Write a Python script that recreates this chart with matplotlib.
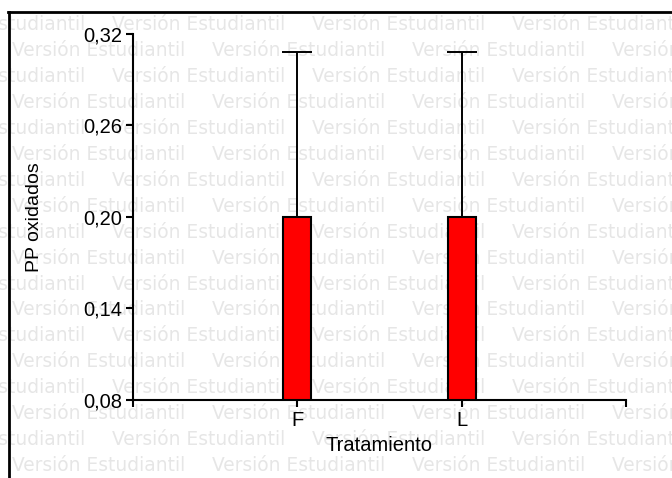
from matplotlib import pyplot as plt
from matplotlib.lines import Line2D

# Datos
categorias = ['F', 'L']
posiciones = [1, 2]
medias = [0.20, 0.20]
error_sup = [0.108, 0.108]
yticks = [0.08, 0.14, 0.20, 0.26, 0.32]
ytick_labels = ['0,08', '0,14', '0,20', '0,26', '0,32']

W, H = 672, 478
fig = plt.figure(figsize=(W / 100, H / 100), dpi=100)
fig.patch.set_facecolor('white')

# Marca de agua "Versión Estudiantil"
for k in range(19):
    y = 25 + 25.9 * k
    x0 = -88 if k % 2 == 0 else 12
    for j in range(5):
        x = x0 + 200 * j
        fig.text(x / W, 1 - y / H, 'Versión Estudiantil', color='#e6e6e6',
                 fontsize=13.4, family='DejaVu Sans', ha='left', va='center',
                 zorder=-5)

# Marco (solo arriba e izquierda)
fig.add_artist(Line2D([8 / W, 1], [1 - 12 / H, 1 - 12 / H], color='black', lw=2, transform=fig.transFigure))
fig.add_artist(Line2D([9 / W, 9 / W], [0, 1 - 12 / H], color='black', lw=2, transform=fig.transFigure))

ax = fig.add_axes([133 / W, 1 - 400 / H, (626 - 133) / W, (400 - 34) / H])
ax.set_facecolor('none')

ax.bar(posiciones, medias, width=0.17, color='#ff0000', edgecolor='black', linewidth=1.5, zorder=2)
ax.errorbar(posiciones, medias, yerr=[[0, 0], error_sup], fmt='none', ecolor='black',
            elinewidth=1.4, capsize=11, capthick=1.4, zorder=3)

ax.set_xlim(0, 3)
ax.set_ylim(0.08, 0.32)
ax.set_xticks([0, 1, 2, 3])
ax.set_xticklabels([''] + categorias + [''])
ax.set_yticks(yticks)
ax.set_yticklabels(ytick_labels)

for s in ['top', 'right']:
    ax.spines[s].set_visible(False)
for s in ['left', 'bottom']:
    ax.spines[s].set_linewidth(1.5)

ax.tick_params(axis='both', direction='out', length=5, width=1.5, labelsize=14.5, pad=3)
for lbl in ax.get_xticklabels() + ax.get_yticklabels():
    lbl.set_family('Liberation Sans')

ax.set_ylabel('PP oxidados', fontsize=14, family='Liberation Sans')
ax.yaxis.set_label_coords(-0.183, 0.5)
ax.set_xlabel('Tratamiento', fontsize=14.5, family='Liberation Sans')
ax.xaxis.set_label_coords(0.5, -0.098)

plt.savefig('out.png', dpi=100)
